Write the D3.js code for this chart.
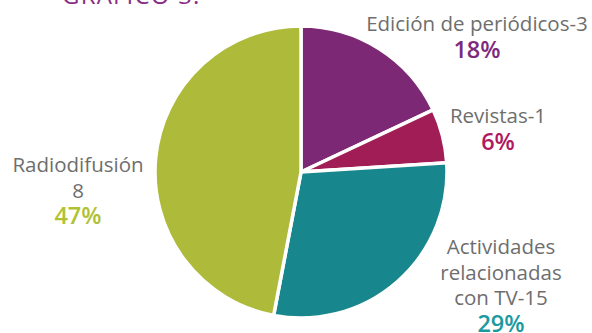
<!DOCTYPE html>
<html>
<head>
<meta charset="utf-8">
<script src="https://cdn.jsdelivr.net/npm/d3@7/dist/d3.min.js"></script>
<style>
  html, body { margin: 0; padding: 0; background: #fff; }
  svg { display: block; }
  text { font-family: "Open Sans", "Noto Sans", sans-serif; }
</style>
</head>
<body>
<svg id="chart" width="592" height="333"></svg>
<script>
// Sector shares (percent), in clockwise order from 12 o'clock
const categories = ["Edición de periódicos", "Revistas", "Actividades relacionadas con TV", "Radiodifusión"];
const shares = [18, 6, 29, 47];
// Label lines drawn next to each slice
const labelLines = [
  ["Edición de periódicos-3"],
  ["Revistas-1"],
  ["Actividades", "relacionadas", "con TV-15"],
  ["Radiodifusión", "8"]
];
const sliceColors = ["#7d2874", "#a01e55", "#18878d", "#aeba39"];
const pctColors = ["#7d2a7c", "#b0185f", "#1a9aa0", "#b0c232"];
const title = "GRÁFICO 3:";

const svg = d3.select("#chart");
const cx = 301, cy = 172, r = 146;

svg.append("text")
  .attr("x", 62).attr("y", 4)
  .attr("fill", "#8a2d86")
  .attr("font-size", 24)
  .attr("letter-spacing", 1.2)
  .text(title);

const pie = d3.pie().sort(null).value(d => d)(shares);
const arc = d3.arc().innerRadius(0).outerRadius(r);

const g = svg.append("g").attr("transform", `translate(${cx},${cy})`);
g.selectAll("path")
  .data(pie)
  .join("path")
  .attr("d", arc)
  .attr("fill", (d, i) => sliceColors[i])
  .attr("stroke", "#fff")
  .attr("stroke-width", 3.5)
  .attr("stroke-linejoin", "miter");

// Label anchors (centre x, first baseline y)
const labelPos = [[477, 31], [498, 123], [501, 254], [78, 172]];
const lineGap = 25.5;

labelLines.forEach((lines, i) => {
  const [x, y0] = labelPos[i];
  const t = svg.append("g");
  lines.forEach((s, k) => {
    t.append("text")
      .attr("x", x).attr("y", y0 + k * lineGap)
      .attr("text-anchor", "middle")
      .attr("fill", "#6e6e6e")
      .attr("font-size", 20.5)
      .text(s);
  });
  t.append("text")
    .attr("x", x).attr("y", y0 + lines.length * lineGap + 1)
    .attr("text-anchor", "middle")
    .attr("fill", pctColors[i])
    .attr("font-size", 23.5)
    .attr("font-weight", 600)
    .text(shares[i] + "%");
});
</script>
</body>
</html>
